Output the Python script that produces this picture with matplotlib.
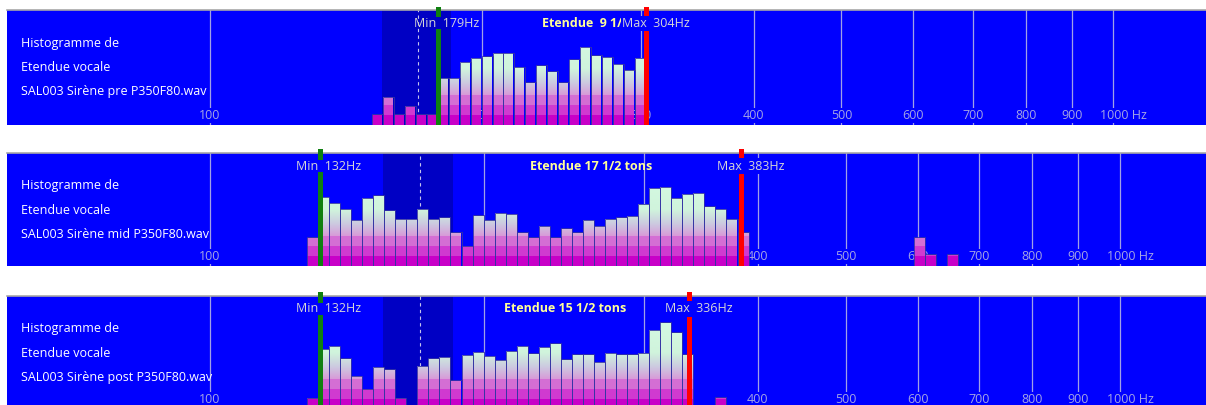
import numpy as np
import matplotlib
matplotlib.use("Agg")
import matplotlib.pyplot as plt
from matplotlib.colors import to_rgb

plt.rcParams['font.family'] = ['Open Sans', 'DejaVu Sans']

W, H = 1206, 405

file_names = ["SAL003 Sirène pre P350F80.wav",
              "SAL003 Sirène mid P350F80.wav",
              "SAL003 Sirène post P350F80.wav"]
f_min = [179, 132, 132]
f_max = [304, 383, 336]
etendue = ["9 1/2", "17 1/2", "15 1/2"]

# histogram bins: bin k goes from bin_f0*bin_ratio**k to bin_f0*bin_ratio**(k+1)
bin_f0 = 127.8
bin_ratio = 1.02833

first_bin = [6, 0, 0]
counts_pre = [10.7, 28, 10.7, 19.3, 10.7, 10.7, 47.3, 47.3, 63.3, 67.3, 68.7, 72, 72,
              58.3, 42.7, 59.7, 53.7, 42.7, 65.7, 78, 69.7, 68.3, 61, 55, 67.3]
counts_mid = [28.7, 69.3, 63.3, 57, 46, 68.3, 70.7, 55.7, 47.3, 47.3, 57, 47.3, 48.7,
              33.7, 20, 50.7, 46, 53.3, 52.3, 33.7, 28.7, 40, 28.7, 37.7, 33.7, 46, 40,
              47.3, 48.7, 50, 62, 78, 79.3, 68.3, 72, 73.3, 59.7, 57, 47.3, 33.7]
counts_post = [11.4, 60.3, 63, 50.7, 33.3, 20, 42, 39.7, 11.4, 0, 43.4, 50.7, 52, 28.7,
               54.3, 57, 53.3, 49.3, 58, 63, 55.7, 62, 65.7, 49.7, 54.7, 54.7, 47.4, 56,
               54.7, 54.7, 56, 79.4, 86.7, 76.7, 54.7]
# isolated bins away from the main block
extra_bins = [[], [55, 56, 58], [37]]
extra_counts = [[], [28.7, 11.7, 11.7], [11.7]]

grid_freqs = [100, 200, 300, 400, 500, 600, 700, 800, 900, 1000]
grid_labels = ["100", "200", "300", "400", "500", "600", "700", "800", "900", "1000 Hz"]
zone_lo, zone_hi, zone_mid = 155, 185, 170

# bar colour ramp by height (px from bottom)
ramp_h = [0, 9.5, 9.6, 19.5, 19.6, 29.5, 29.6, 42, 56, 116]
ramp_c = ['#c800c8', '#c800c8', '#d03ad0', '#d03ad0', '#d46ed4', '#d46ed4',
          '#d89ad8', '#cccbe0', '#d0f4dc', '#d8ffe6']

# panel geometry (pixels)
tops = [10, 152.5, 295.5]
heights = [115, 113.5, 113.5]
px_per_decade = [903.3, 910, 910]
x100 = 210
x_left = 7
fs = 9

fig = plt.figure(figsize=(W / 100, H / 100), dpi=100)
fig.patch.set_facecolor('white')

ramp_rgb = np.array([to_rgb(c) for c in ramp_c])
yy = np.linspace(0, 116, 464)
grad = np.stack([np.interp(yy, ramp_h, ramp_rgb[:, j]) for j in range(3)], axis=-1)[:, None, :]

all_counts = [counts_pre, counts_mid, counts_post]
px = 0.72  # points per pixel at dpi 100

for i in range(3):
    h = heights[i]
    ppd = px_per_decade[i]
    ax = fig.add_axes([x_left / W, 1 - (tops[i] + h) / H, (W - x_left) / W, h / H])
    ax.set_xscale('log')
    x_lo = 10 ** (2 + (x_left - x100) / ppd)
    x_hi = 10 ** (2 + (W - x100) / ppd)
    ax.set_facecolor('#0000ff')

    ax.axvspan(zone_lo, zone_hi, color='#0000c4', lw=0, zorder=0.5)
    ax.axvline(zone_mid, color='#c4c4ec', lw=0.8, ls=(0, (3, 3)), zorder=1)
    for f, lab in zip(grid_freqs, grid_labels):
        ax.axvline(f, color='#a0a0e6', lw=0.9, zorder=1)
        if lab.endswith("Hz"):
            ax.annotate(lab, xy=(f, 9.5), xytext=(-13 * px, 0), textcoords='offset points',
                        ha='left', va='center', fontsize=fs, color='#a4a4e4', zorder=1.5,
                        bbox=dict(boxstyle='square,pad=0.1', fc='#0000ff', ec='none'))
        else:
            ax.text(f, 9.5, lab, ha='center', va='center', fontsize=fs, color='#a4a4e4',
                    zorder=1.5, bbox=dict(boxstyle='square,pad=0.1', fc='#0000ff', ec='none'))

    bins = list(range(first_bin[i], first_bin[i] + len(all_counts[i]))) + extra_bins[i]
    vals = list(all_counts[i]) + extra_counts[i]
    keep = [(b, v) for b, v in zip(bins, vals) if v > 0]
    left = bin_f0 * bin_ratio ** np.array([b for b, v in keep])
    width = left * (bin_ratio - 1)
    bars = ax.bar(left, [v for b, v in keep], width=width, align='edge', facecolor='none',
                  edgecolor='#3434a4', linewidth=0.6, zorder=2.1)
    for b in bars:
        im = ax.imshow(grad, origin='lower', extent=(x_lo, x_hi, 0, 116), aspect='auto',
                       interpolation='bilinear', zorder=2)
        im.set_clip_path(b)

    for f, col in ((f_min[i], '#108010'), (f_max[i], '#ff0000')):
        ax.axvline(f, ymin=0, ymax=1 - 21 / h, color=col, lw=3.6, zorder=3)
        ax.axvline(f, ymin=1 - 4 / h, ymax=1 + 1.5 / h, color=col, lw=3.6, zorder=3,
                   clip_on=False)

    ylab = 1 - 13.5 / h
    ax.text(np.sqrt(f_min[i] * f_max[i]), ylab, "Etendue %6s tons" % etendue[i],
            transform=ax.get_xaxis_transform(), ha='left', va='center', fontsize=fs,
            fontweight='bold', color='#ffff99', zorder=4)
    ax.annotate("Min  %dHz" % f_min[i], xy=(f_min[i], ylab), xycoords=('data', 'axes fraction'),
                xytext=(-24 * px, 0), textcoords='offset points', ha='left', va='center',
                fontsize=fs, color='#d6d6d6', zorder=5)
    ax.annotate("Max  %dHz" % f_max[i], xy=(f_max[i], ylab), xycoords=('data', 'axes fraction'),
                xytext=(-24 * px, 0), textcoords='offset points', ha='left', va='center',
                fontsize=fs, color='#d6d6d6', zorder=5,
                bbox=dict(boxstyle='square,pad=0.1', fc='#0000ff', ec='none'))

    for j, t in enumerate(["Histogramme de", "Etendue vocale", file_names[i]]):
        ax.text((21 - x_left) / (W - x_left), 1 - (33 + 24.5 * j) / h, t, transform=ax.transAxes,
                ha='left', va='center', fontsize=fs, color='white', zorder=6)

    ax.set_xlim(x_lo, x_hi)
    ax.set_ylim(0, h)
    ax.set_xticks([])
    ax.set_yticks([])
    ax.minorticks_off()
    for s in ['left', 'right', 'bottom']:
        ax.spines[s].set_visible(False)
    ax.spines['top'].set_color('#a8a8a8')
    ax.spines['top'].set_linewidth(1.2)

fig.savefig("out.png", dpi=100)
